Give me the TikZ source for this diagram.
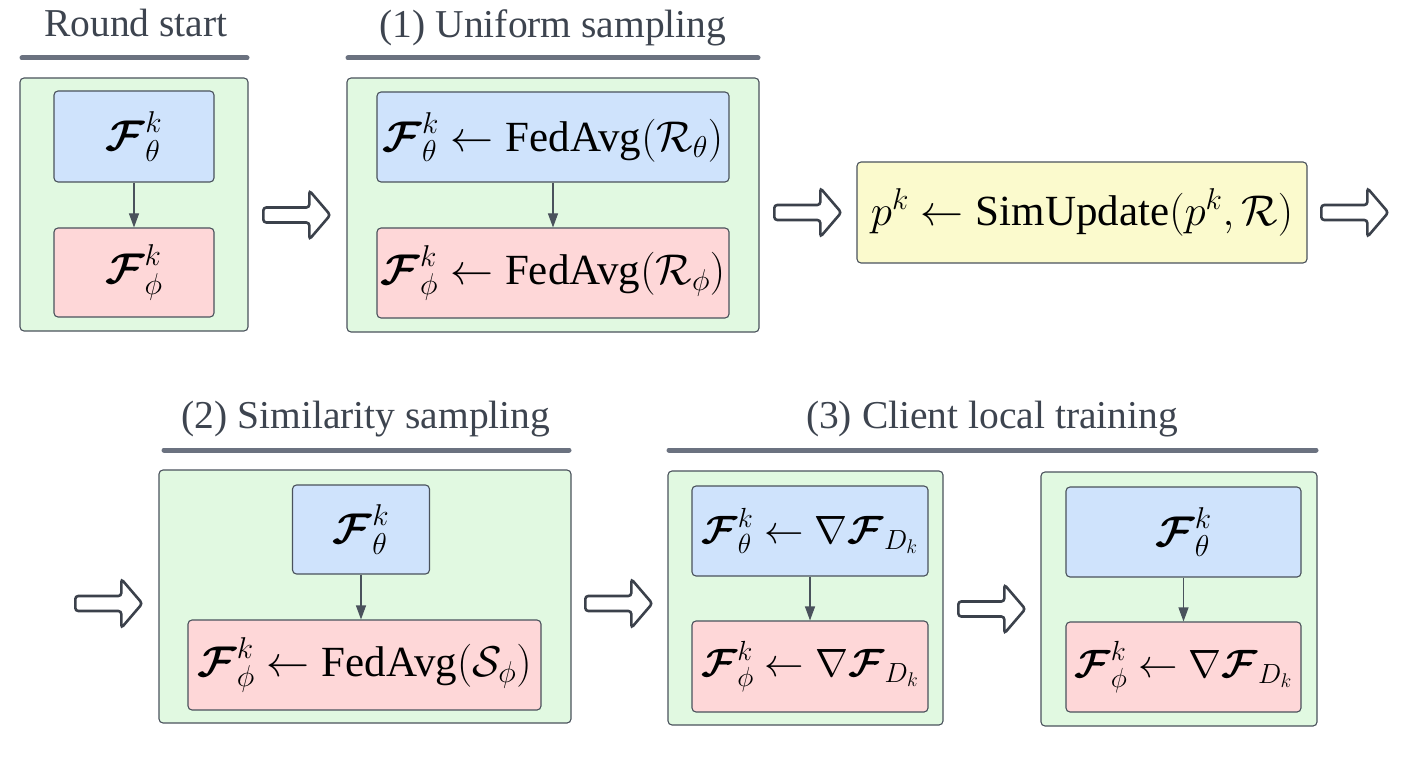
\RequirePackage{fix-cm}
\documentclass[tikz,border=0pt]{standalone}
\usepackage{amsmath}
\usepackage{fontspec}
\setmainfont{Liberation Serif}
\usetikzlibrary{arrows.meta}
\definecolor{gfill}{HTML}{E1F9E1}
\definecolor{bfill}{HTML}{CFE3FC}
\definecolor{rfill}{HTML}{FED7D8}
\definecolor{yfill}{HTML}{FBFACD}
\definecolor{edge}{HTML}{4A525C}
\definecolor{headtxt}{HTML}{3D444F}
\definecolor{headline}{HTML}{6B7280}
\definecolor{harrowc}{HTML}{3B414B}
\newcommand{\cF}{\boldsymbol{\mathcal{F}}}
\newcommand{\FA}{\textrm{FedAvg}}
\begin{document}
\begin{tikzpicture}[x=1pt,y=-1pt,
  panel/.style={draw=edge, line width=1.1pt, rounded corners=4pt, inner sep=0pt, fill=gfill},
  bluebox/.style={draw=edge, line width=1.1pt, rounded corners=4pt, inner sep=0pt, fill=bfill,
     font=\fontsize{43}{50}\selectfont},
  redbox/.style={bluebox, fill=rfill},
  yelbox/.style={bluebox, fill=yfill},
  gradtext/.style={font=\fontsize{39.5}{46}\selectfont},
  flow/.style={draw=edge, line width=1.1pt, -{Triangle[width=10pt,length=14pt]}},
  headtext/.style={anchor=base, text=headtxt, font=\fontsize{39.5}{46}\selectfont, inner sep=0pt},
  headrule/.style={draw=headline, line width=5pt, line cap=round},
  harrow/.pic={\draw[harrowc, line width=2.6pt, fill=white, rounded corners=3pt]
     (0,-7.5) -- (46,-7.5) -- (46,-24.5) -- (67,0) -- (46,24.5) -- (46,7.5) -- (0,7.5) -- cycle;}
]
\useasboundingbox (0,0) rectangle (1402,767);

% ---------- headings ----------
\node[headtext] (t1) at (136,37) {Round start};
\coordinate (l1a) at (22,58); \coordinate (l1b) at (247,58);
\draw[headrule] (l1a) -- (l1b);
\node[headtext] (t2) at (553,38) {(1) Uniform sampling};
\coordinate (l2a) at (348,58); \coordinate (l2b) at (758,58);
\draw[headrule] (l2a) -- (l2b);
\node[headtext] (t3) at (366,428) {(2) Similarity sampling};
\coordinate (l3a) at (164,450); \coordinate (l3b) at (569,450);
\draw[headrule] (l3a) -- (l3b);
\node[headtext] (t4) at (992,428) {(3) Client local training};
\coordinate (l4a) at (669,450); \coordinate (l4b) at (1316,450);
\draw[headrule] (l4a) -- (l4b);

% ---------- top row ----------
\node[panel, minimum width=228pt, minimum height=253pt] (g1) at (134,204.5) {};
\node[bluebox, minimum width=160pt, minimum height=91pt] (b1) at (134,136.5) {$\cF_\theta^k$};
\node[redbox, minimum width=160pt, minimum height=89pt] (r1) at (134,272.5) {$\cF_\phi^k$};
\draw[flow] (b1.south) -- (b1.south |- r1.north);

\node[panel, minimum width=412pt, minimum height=254pt] (g2) at (553,205) {};
\node[bluebox, minimum width=352pt, minimum height=90pt] (b2) at (553,137) {$\cF_\theta^k \leftarrow \FA(\mathcal{R}_\theta)$};
\node[redbox, minimum width=352pt, minimum height=90pt] (r2) at (553,273) {$\cF_\phi^k \leftarrow \FA(\mathcal{R}_\phi)$};
\draw[flow] (b2.south) -- (b2.south |- r2.north);

\node[yelbox, minimum width=450pt, minimum height=101pt] (y1) at (1082,212.5) {$p^k \leftarrow \textrm{SimUpdate}(p^k,\mathcal{R})$};

\pic at (263.3,215) {harrow};
\pic at (774.3,212.5) {harrow};
\pic at (1321.3,212.5) {harrow};

% ---------- bottom row ----------
\node[panel, minimum width=412pt, minimum height=253pt] (g3) at (365,596.5) {};
\node[bluebox, minimum width=137pt, minimum height=89pt] (b3) at (361,529.5) {$\cF_\theta^k$};
\node[redbox, minimum width=353pt, minimum height=90pt] (r3) at (364.5,665) {$\cF_\phi^k \leftarrow \FA(\mathcal{S}_\phi)$};
\draw[flow] (b3.south) -- (b3.south |- r3.north);

\node[panel, minimum width=275pt, minimum height=254pt] (g4) at (805.5,598) {};
\node[bluebox, gradtext, minimum width=236pt, minimum height=90pt] (b4) at (810,531) {$\cF_\theta^k \leftarrow \nabla\cF_{D_k}$};
\node[redbox, gradtext, minimum width=236pt, minimum height=91pt] (r4) at (810,666.5) {$\cF_\phi^k \leftarrow \nabla\cF_{D_k}$};
\draw[flow] (b4.south) -- (b4.south |- r4.north);

\node[panel, minimum width=276pt, minimum height=254pt] (g5) at (1179,599) {};
\node[bluebox, minimum width=235pt, minimum height=90pt] (b5) at (1183.5,532) {$\cF_\theta^k$};
\node[redbox, gradtext, minimum width=235pt, minimum height=90pt] (r5) at (1183.5,667) {$\cF_\phi^k \leftarrow \nabla\cF_{D_k}$};
\draw[flow] (b5.south) -- (b5.south |- r5.north);

\pic at (75.3,603.5) {harrow};
\pic at (585.3,603.5) {harrow};
\pic at (958.3,609) {harrow};
\end{tikzpicture}
\end{document}
